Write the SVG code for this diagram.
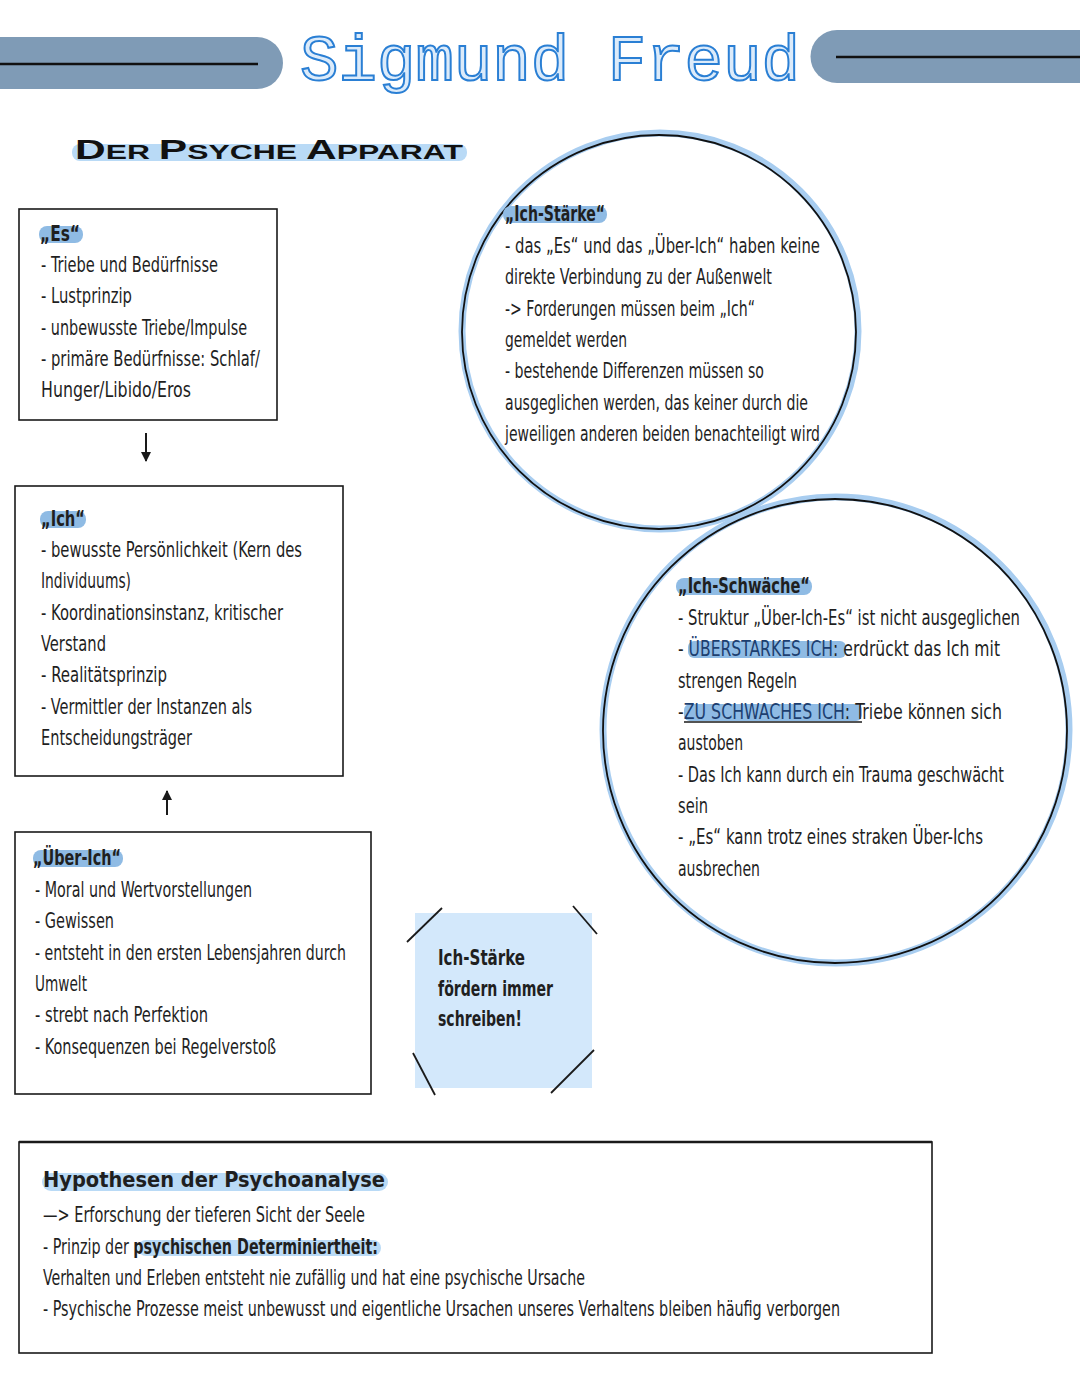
<svg xmlns="http://www.w3.org/2000/svg" width="1080" height="1394" viewBox="0 0 1080 1394">
<defs>
<style>
.t{font-family:"Liberation Sans Narrow","DejaVu Sans Condensed","Liberation Sans",sans-serif;font-size:21px;fill:#1f1f1f}
.b{font-weight:bold}
.box{fill:#ffffff;stroke:#1a1a1a;stroke-width:1.6}
.hl{fill:#8fbbe4}
.hl2{fill:#b9daf6}
.glow{fill:none;stroke:#a8cdf0;stroke-width:7}
.ring{fill:none;stroke:#111;stroke-width:1.8}
.tape{stroke:#1a1a1a;stroke-width:1.8;fill:none}
.bar{fill:#7f9bb6}
.conn{stroke:#1a1a1a;stroke-width:2;fill:none}
</style>
<marker id="ah" viewBox="0 0 10 10" refX="9" refY="5" markerWidth="5" markerHeight="5" orient="auto">
<path d="M0,0 L10,5 L0,10 z" fill="#1a1a1a"/>
</marker>
</defs>
<rect width="1080" height="1394" fill="#ffffff"/>

<g id="title">
<path class="bar" d="M0,37 H257 A26,26 0 0 1 257,89 H0 z"/>
<line x1="0" y1="64" x2="258" y2="64" stroke="#111" stroke-width="2.5"/>
<path class="bar" d="M1080,30 H837 A26.5,26.5 0 0 0 837,83 H1080 z"/>
<line x1="836" y1="57" x2="1080" y2="57" stroke="#111" stroke-width="2.5"/>
<text x="300" y="80" font-family="'Liberation Mono','DejaVu Sans Mono',monospace" font-size="65" fill="#dcebfa" stroke="#2a7fd4" stroke-width="2" textLength="500" lengthAdjust="spacingAndGlyphs">Sigmund Freud</text>
</g>

<g id="subtitle">
<rect x="72" y="144" width="395" height="17" rx="8" class="hl2"/>
<text x="75" y="159" font-family="'Liberation Sans','DejaVu Sans',sans-serif" font-weight="bold" fill="#111" textLength="388" lengthAdjust="spacingAndGlyphs"><tspan font-size="28">D</tspan><tspan font-size="21">ER </tspan><tspan font-size="28">P</tspan><tspan font-size="21">SYCHE </tspan><tspan font-size="28">A</tspan><tspan font-size="21">PPARAT</tspan></text>
</g>

<g id="connectors">
<line class="conn" x1="146" y1="433" x2="146" y2="461" marker-end="url(#ah)"/>
<line class="conn" x1="167" y1="815" x2="167" y2="791" marker-end="url(#ah)"/>
</g>

<g id="es">
<rect class="box" x="19" y="209" width="258" height="211"/>
<rect class="hl" x="39" y="226" width="44" height="17" rx="8"/>
<text class="t b" x="40" y="241" textLength="40" lengthAdjust="spacingAndGlyphs">„Es“</text>
<text class="t" x="41" y="272" textLength="177" lengthAdjust="spacingAndGlyphs">- Triebe und Bedürfnisse</text>
<text class="t" x="41" y="303" textLength="91" lengthAdjust="spacingAndGlyphs">- Lustprinzip</text>
<text class="t" x="41" y="335" textLength="206" lengthAdjust="spacingAndGlyphs">- unbewusste Triebe/Impulse</text>
<text class="t" x="41" y="366" textLength="219" lengthAdjust="spacingAndGlyphs">- primäre Bedürfnisse: Schlaf/</text>
<text class="t" x="41" y="397" textLength="150" lengthAdjust="spacingAndGlyphs">Hunger/Libido/Eros</text>
</g>

<g id="ich">
<rect class="box" x="15" y="486" width="328" height="290"/>
<rect class="hl" x="40" y="511" width="46" height="17" rx="8"/>
<text class="t b" x="41" y="526" textLength="44" lengthAdjust="spacingAndGlyphs">„Ich“</text>
<text class="t" x="41" y="557" textLength="261" lengthAdjust="spacingAndGlyphs">- bewusste Persönlichkeit (Kern des</text>
<text class="t" x="41" y="588" textLength="90" lengthAdjust="spacingAndGlyphs">Individuums)</text>
<text class="t" x="41" y="620" textLength="242" lengthAdjust="spacingAndGlyphs">- Koordinationsinstanz, kritischer</text>
<text class="t" x="41" y="651" textLength="65" lengthAdjust="spacingAndGlyphs">Verstand</text>
<text class="t" x="41" y="682" textLength="126" lengthAdjust="spacingAndGlyphs">- Realitätsprinzip</text>
<text class="t" x="41" y="714" textLength="211" lengthAdjust="spacingAndGlyphs">- Vermittler der Instanzen als</text>
<text class="t" x="41" y="745" textLength="151" lengthAdjust="spacingAndGlyphs">Entscheidungsträger</text>
</g>

<g id="ueber-ich">
<rect class="box" x="15" y="832" width="356" height="262"/>
<rect class="hl" x="33" y="850" width="90" height="17" rx="8"/>
<text class="t b" x="33" y="865" textLength="88" lengthAdjust="spacingAndGlyphs">„Über-Ich“</text>
<text class="t" x="35" y="897" textLength="217" lengthAdjust="spacingAndGlyphs">- Moral und Wertvorstellungen</text>
<text class="t" x="35" y="928" textLength="79" lengthAdjust="spacingAndGlyphs">- Gewissen</text>
<text class="t" x="35" y="960" textLength="311" lengthAdjust="spacingAndGlyphs">- entsteht in den ersten Lebensjahren durch</text>
<text class="t" x="35" y="991" textLength="52" lengthAdjust="spacingAndGlyphs">Umwelt</text>
<text class="t" x="35" y="1022" textLength="173" lengthAdjust="spacingAndGlyphs">- strebt nach Perfektion</text>
<text class="t" x="35" y="1054" textLength="241" lengthAdjust="spacingAndGlyphs">- Konsequenzen bei Regelverstoß</text>
</g>

<g id="ich-staerke">
<circle class="glow" cx="660" cy="331" r="198"/>
<circle class="ring" cx="659" cy="332" r="197"/>
<rect class="hl" x="503" y="206" width="104" height="17" rx="8"/>
<text class="t b" x="505" y="221" textLength="100" lengthAdjust="spacingAndGlyphs">„Ich-Stärke“</text>
<text class="t" x="505" y="253" textLength="315" lengthAdjust="spacingAndGlyphs">- das „Es“ und das „Über-Ich“ haben keine</text>
<text class="t" x="505" y="284" textLength="267" lengthAdjust="spacingAndGlyphs">direkte Verbindung zu der Außenwelt</text>
<text class="t" x="505" y="316" textLength="250" lengthAdjust="spacingAndGlyphs">-&gt; Forderungen müssen beim „Ich“</text>
<text class="t" x="505" y="347" textLength="122" lengthAdjust="spacingAndGlyphs">gemeldet werden</text>
<text class="t" x="505" y="378" textLength="259" lengthAdjust="spacingAndGlyphs">- bestehende Differenzen müssen so</text>
<text class="t" x="505" y="410" textLength="303" lengthAdjust="spacingAndGlyphs">ausgeglichen werden, das keiner durch die</text>
<text class="t" x="505" y="441" textLength="315" lengthAdjust="spacingAndGlyphs">jeweiligen anderen beiden benachteiligt wird</text>
</g>

<g id="ich-schwaeche">
<circle class="glow" cx="836" cy="730" r="233"/>
<circle class="ring" cx="835" cy="731" r="232"/>
<rect class="hl" x="676" y="578" width="136" height="17" rx="8"/>
<text class="t b" x="678" y="593" textLength="132" lengthAdjust="spacingAndGlyphs">„Ich-Schwäche“</text>
<text class="t" x="678" y="625" textLength="342" lengthAdjust="spacingAndGlyphs">- Struktur „Über-Ich-Es“ ist nicht ausgeglichen</text>
<rect class="hl" x="688" y="641" width="158" height="17" rx="6"/>
<text class="t" x="678" y="656" textLength="322" lengthAdjust="spacingAndGlyphs">- <tspan fill="#1d3f70">ÜBERSTARKES ICH</tspan>: erdrückt das Ich mit</text>
<text class="t" x="678" y="688" textLength="119" lengthAdjust="spacingAndGlyphs">strengen Regeln</text>
<rect class="hl" x="684" y="704" width="178" height="17" rx="6"/>
<line x1="684" y1="722" x2="862" y2="722" stroke="#1a1a1a" stroke-width="1.4"/>
<text class="t" x="678" y="719" textLength="324" lengthAdjust="spacingAndGlyphs">-<tspan fill="#1d3f70">ZU SCHWACHES ICH</tspan>: Triebe können sich</text>
<text class="t" x="678" y="750" textLength="65" lengthAdjust="spacingAndGlyphs">austoben</text>
<text class="t" x="678" y="782" textLength="326" lengthAdjust="spacingAndGlyphs">- Das Ich kann durch ein Trauma geschwächt</text>
<text class="t" x="678" y="813" textLength="30" lengthAdjust="spacingAndGlyphs">sein</text>
<text class="t" x="678" y="844" textLength="305" lengthAdjust="spacingAndGlyphs">- „Es“ kann trotz eines straken Über-Ichs</text>
<text class="t" x="678" y="876" textLength="82" lengthAdjust="spacingAndGlyphs">ausbrechen</text>
</g>

<g id="note">
<rect x="415" y="913" width="177" height="175" fill="#d3e8fb"/>
<line class="tape" x1="407" y1="942" x2="442" y2="908"/>
<line class="tape" x1="573" y1="906" x2="597" y2="934"/>
<line class="tape" x1="413" y1="1053" x2="435" y2="1095"/>
<line class="tape" x1="551" y1="1093" x2="594" y2="1050"/>
<text class="t b" x="438" y="965" textLength="87" lengthAdjust="spacingAndGlyphs">Ich-Stärke</text>
<text class="t b" x="438" y="996" textLength="115" lengthAdjust="spacingAndGlyphs">fördern immer</text>
<text class="t b" x="438" y="1026" textLength="84" lengthAdjust="spacingAndGlyphs">schreiben!</text>
</g>

<g id="hypothesen">
<rect class="box" x="19" y="1142" width="913" height="211"/>
<line x1="19" y1="1142" x2="932" y2="1142" stroke="#1a1a1a" stroke-width="2.4"/>
<rect class="hl2" x="42" y="1173" width="346" height="18" rx="9"/>
<text class="t b" x="43" y="1187" font-size="27" textLength="342" lengthAdjust="spacingAndGlyphs">Hypothesen der Psychoanalyse</text>
<text class="t" x="43" y="1222" textLength="322" lengthAdjust="spacingAndGlyphs">—&gt; Erforschung der tieferen Sicht der Seele</text>
<rect class="hl2" x="138" y="1240" width="243" height="16" rx="8"/>
<text class="t" x="43" y="1254" textLength="335" lengthAdjust="spacingAndGlyphs">- Prinzip der <tspan class="b">psychischen Determiniertheit:</tspan></text>
<text class="t" x="43" y="1285" textLength="542" lengthAdjust="spacingAndGlyphs">Verhalten und Erleben entsteht nie zufällig und hat eine psychische Ursache</text>
<text class="t" x="43" y="1316" textLength="797" lengthAdjust="spacingAndGlyphs">- Psychische Prozesse meist unbewusst und eigentliche Ursachen unseres Verhaltens bleiben häufig verborgen</text>
</g>
</svg>
